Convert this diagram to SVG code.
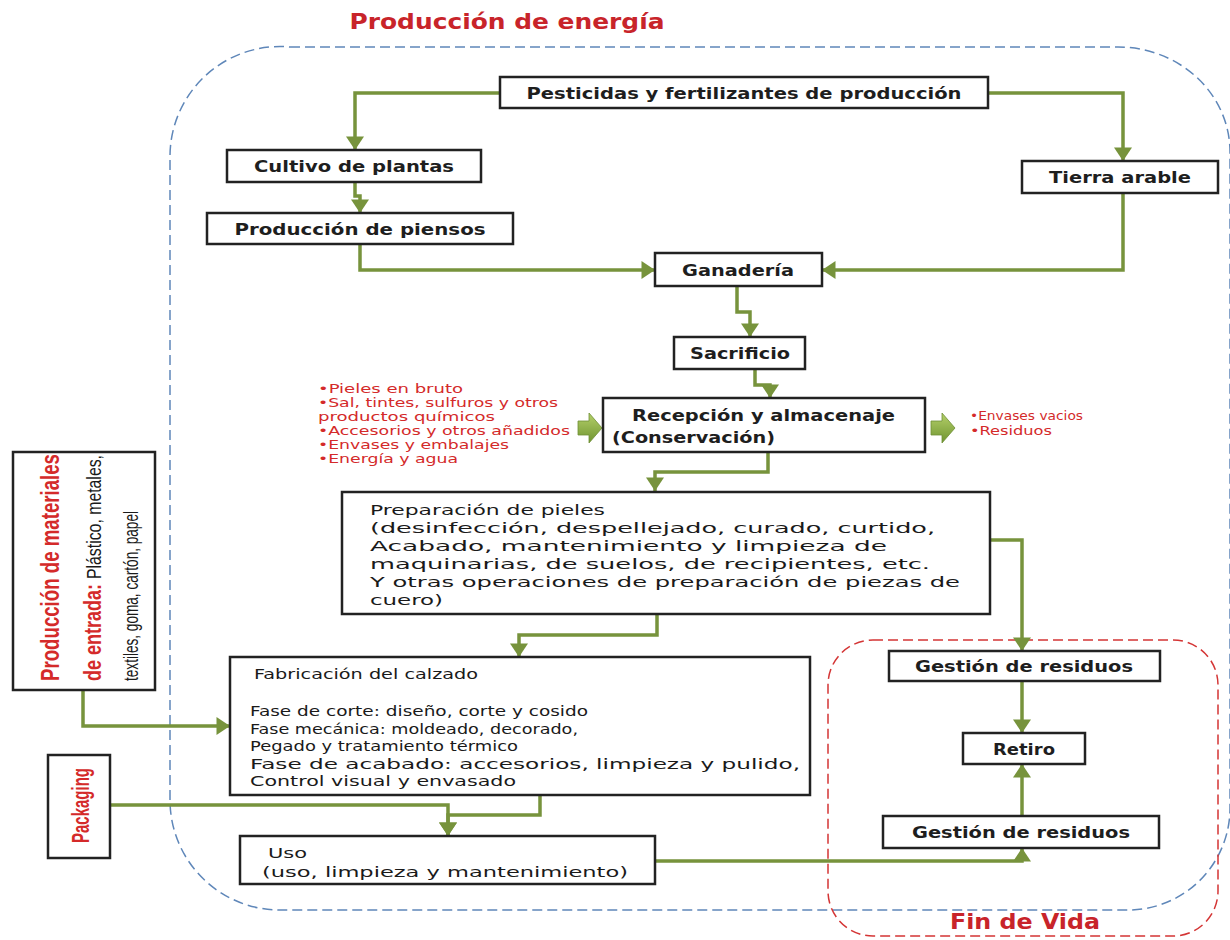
<svg xmlns="http://www.w3.org/2000/svg" width="1230" height="940" viewBox="0 0 1230 940">
<style>
.box{fill:#fff;stroke:#222;stroke-width:2.5}
.lbl{font-family:"DejaVu Sans","Open Sans",sans-serif;font-size:16.5px;font-weight:700;fill:#1e1e1e;text-anchor:middle}
.par{font-family:"DejaVu Sans","Open Sans",sans-serif;font-size:14.5px;fill:#1a1a1a}
.con{fill:none;stroke:#77933c;stroke-width:3.5}
.red{font-family:"DejaVu Sans","Open Sans",sans-serif;font-size:12px;fill:#d42a2a}
.ttl{font-family:"DejaVu Sans","Open Sans",sans-serif;font-size:21px;font-weight:700;fill:#c8242a;text-anchor:middle}
.vr{font-family:"Liberation Sans",Arial,sans-serif;font-weight:700;fill:#d42a2a}
.vb{font-family:"Liberation Sans",Arial,sans-serif;fill:#1a1a1a}
</style>
<defs>
<marker id="ah" markerUnits="userSpaceOnUse" markerWidth="18" markerHeight="18" viewBox="0 0 12 16" refX="12" refY="8" orient="auto">
<path d="M0,0 L12,8 L0,16 z" fill="#77933c"/>
</marker>
<linearGradient id="bg" x1="0" y1="0" x2="0" y2="1">
<stop offset="0" stop-color="#b5d06a"/>
<stop offset="1" stop-color="#6f9430"/>
</linearGradient>
<path id="blk" d="M0,8 H11 V0 L24,15 L11,30 V22 H0 z" fill="url(#bg)" stroke="#6f8f35" stroke-width="0.8"/>
</defs>

<rect width="1230" height="940" fill="#fff"/>

<g id="regions">
<path d="M290,47 H1118 A112,105 0 0 1 1230,152 V808 A102,102 0 0 1 1128,910 H280 A110,110 0 0 1 170,800 V157 A110,110 0 0 1 290,47 z" fill="none" stroke="#5f87b9" stroke-width="1.5" stroke-dasharray="10,5"/>
<rect x="828" y="640" width="390" height="296" rx="45" fill="none" stroke="#d43535" stroke-width="1.5" stroke-dasharray="10,5"/>
<text class="ttl" x="507" y="29" textLength="315" lengthAdjust="spacingAndGlyphs">Producción de energía</text>
<text class="ttl" x="1025" y="929" font-size="23" textLength="150" lengthAdjust="spacingAndGlyphs">Fin de Vida</text>
</g>

<g id="connectors">
<path class="con" d="M500,93 H355 V150" marker-end="url(#ah)"/>
<path class="con" d="M988,93 H1123 V161" marker-end="url(#ah)"/>
<path class="con" d="M355,182 V196 H360 V213" marker-end="url(#ah)"/>
<path class="con" d="M360,244 V270 H655" marker-end="url(#ah)"/>
<path class="con" d="M1123,193 V270 H822" marker-end="url(#ah)"/>
<path class="con" d="M737,286 V312 H750 V337" marker-end="url(#ah)"/>
<path class="con" d="M755,369 V385 H770 V398" marker-end="url(#ah)"/>
<path class="con" d="M768,452 V472 H655 V491" marker-end="url(#ah)"/>
<path class="con" d="M990,540 H1022 V651" marker-end="url(#ah)"/>
<path class="con" d="M657,614 V635 H519 V657" marker-end="url(#ah)"/>
<path class="con" d="M1022,681 V733" marker-end="url(#ah)"/>
<path class="con" d="M1022,816 V764" marker-end="url(#ah)"/>
<path class="con" d="M655,861 H1022 V848" marker-end="url(#ah)"/>
<path class="con" d="M540,795 V815 H448 V836" marker-end="url(#ah)"/>
<path class="con" d="M110,805 H448 V836" marker-end="url(#ah)"/>
<path class="con" d="M83,690 V726 H230" marker-end="url(#ah)"/>
<use href="#blk" x="578" y="413"/>
<use href="#blk" x="931" y="413"/>
</g>

<g id="n-pesticidas"><rect class="box" x="500" y="77" width="488" height="31"/><text class="lbl" x="744" y="99" textLength="435" lengthAdjust="spacingAndGlyphs">Pesticidas y fertilizantes de producción</text></g>
<g id="n-cultivo"><rect class="box" x="227" y="150" width="254" height="32"/><text class="lbl" x="354" y="172" textLength="200" lengthAdjust="spacingAndGlyphs">Cultivo de plantas</text></g>
<g id="n-piensos"><rect class="box" x="207" y="213" width="306" height="31"/><text class="lbl" x="360" y="235" textLength="251" lengthAdjust="spacingAndGlyphs">Producción de piensos</text></g>
<g id="n-tierra"><rect class="box" x="1022" y="161" width="196" height="32"/><text class="lbl" x="1120" y="183" textLength="142" lengthAdjust="spacingAndGlyphs">Tierra arable</text></g>
<g id="n-ganaderia"><rect class="box" x="655" y="253" width="167" height="33"/><text class="lbl" x="738" y="276" textLength="112" lengthAdjust="spacingAndGlyphs">Ganadería</text></g>
<g id="n-sacrificio"><rect class="box" x="674" y="337" width="131" height="32"/><text class="lbl" x="740" y="359" textLength="100" lengthAdjust="spacingAndGlyphs">Sacrificio</text></g>
<g id="n-recepcion"><rect class="box" x="603" y="398" width="322" height="54"/>
<text class="lbl" x="632" y="421" style="text-anchor:start;font-weight:600" textLength="263" lengthAdjust="spacingAndGlyphs">Recepción y almacenaje</text>
<text class="lbl" x="612" y="443" style="text-anchor:start;font-weight:600" textLength="163" lengthAdjust="spacingAndGlyphs">(Conservación)</text></g>

<g id="inputs">
<text class="red" x="318" y="393" textLength="145" lengthAdjust="spacingAndGlyphs">•Pieles en bruto</text>
<text class="red" x="318" y="407" textLength="240" lengthAdjust="spacingAndGlyphs">•Sal, tintes, sulfuros y otros</text>
<text class="red" x="318" y="421" textLength="177" lengthAdjust="spacingAndGlyphs">productos químicos</text>
<text class="red" x="318" y="435" textLength="252" lengthAdjust="spacingAndGlyphs">•Accesorios y otros añadidos</text>
<text class="red" x="318" y="449" textLength="191" lengthAdjust="spacingAndGlyphs">•Envases y embalajes</text>
<text class="red" x="318" y="463" textLength="140" lengthAdjust="spacingAndGlyphs">•Energía y agua</text>
</g>
<g id="outputs">
<text class="red" x="970" y="420" textLength="113" lengthAdjust="spacingAndGlyphs">•Envases vacios</text>
<text class="red" x="970" y="435" textLength="82" lengthAdjust="spacingAndGlyphs">•Residuos</text>
</g>

<g id="n-preparacion"><rect class="box" x="342" y="492" width="648" height="122"/>
<text class="par" x="370" y="515" font-size="15" textLength="235" lengthAdjust="spacingAndGlyphs">Preparación de pieles</text>
<text class="par" x="370" y="533" font-size="15" textLength="565" lengthAdjust="spacingAndGlyphs">(desinfección, despellejado, curado, curtido,</text>
<text class="par" x="370" y="551" font-size="15" textLength="517" lengthAdjust="spacingAndGlyphs">Acabado, mantenimiento y limpieza de</text>
<text class="par" x="370" y="569" font-size="15" textLength="560" lengthAdjust="spacingAndGlyphs">maquinarias, de suelos, de recipientes, etc.</text>
<text class="par" x="370" y="587" font-size="15" textLength="590" lengthAdjust="spacingAndGlyphs">Y otras operaciones de preparación de piezas de</text>
<text class="par" x="370" y="605" font-size="15" textLength="73" lengthAdjust="spacingAndGlyphs">cuero)</text>
</g>

<g id="n-fabricacion"><rect class="box" x="230" y="657" width="580" height="138"/>
<text class="par" x="254" y="679" textLength="224" lengthAdjust="spacingAndGlyphs">Fabricación del calzado</text>
<text class="par" x="250" y="716" textLength="338" lengthAdjust="spacingAndGlyphs">Fase de corte: diseño, corte y cosido</text>
<text class="par" x="250" y="733.5" textLength="328" lengthAdjust="spacingAndGlyphs">Fase mecánica: moldeado, decorado,</text>
<text class="par" x="250" y="751" textLength="268" lengthAdjust="spacingAndGlyphs">Pegado y tratamiento térmico</text>
<text class="par" x="250" y="768.5" textLength="550" lengthAdjust="spacingAndGlyphs">Fase de acabado: accesorios, limpieza y pulido,</text>
<text class="par" x="250" y="786" textLength="266" lengthAdjust="spacingAndGlyphs">Control visual y envasado</text>
</g>

<g id="n-uso"><rect class="box" x="240" y="836" width="415" height="48"/>
<text class="par" x="268" y="858" font-size="15" textLength="39" lengthAdjust="spacingAndGlyphs">Uso</text>
<text class="par" x="262" y="877" font-size="15" textLength="366" lengthAdjust="spacingAndGlyphs">(uso, limpieza y mantenimiento)</text>
</g>

<g id="n-gestion1"><rect class="box" x="889" y="651" width="271" height="30"/><text class="lbl" x="1024" y="672" textLength="218" lengthAdjust="spacingAndGlyphs">Gestión de residuos</text></g>
<g id="n-retiro"><rect class="box" x="963" y="733" width="122" height="31"/><text class="lbl" x="1024" y="755" textLength="62" lengthAdjust="spacingAndGlyphs">Retiro</text></g>
<g id="n-gestion2"><rect class="box" x="883" y="816" width="276" height="32"/><text class="lbl" x="1021" y="838" textLength="218" lengthAdjust="spacingAndGlyphs">Gestión de residuos</text></g>

<g id="n-materiales"><rect class="box" x="13" y="452" width="142" height="238"/>
<text class="vr" font-size="25" transform="translate(59,681) rotate(-90)" textLength="227" lengthAdjust="spacingAndGlyphs">Producción de materiales</text>
<text class="vr" font-size="24" transform="translate(101,681) rotate(-90)" textLength="97" lengthAdjust="spacingAndGlyphs">de entrada:</text>
<text class="vb" font-size="20" transform="translate(101,579) rotate(-90)" textLength="124" lengthAdjust="spacingAndGlyphs">Plástico, metales,</text>
<text class="vb" font-size="20" transform="translate(138,681) rotate(-90)" textLength="170" lengthAdjust="spacingAndGlyphs">textiles, goma, cartón, papel</text>
</g>
<g id="n-packaging"><rect class="box" x="48" y="755" width="62" height="103"/>
<text class="vr" font-size="24" transform="translate(89,843) rotate(-90)" textLength="75" lengthAdjust="spacingAndGlyphs">Packaging</text>
</g>
</svg>
